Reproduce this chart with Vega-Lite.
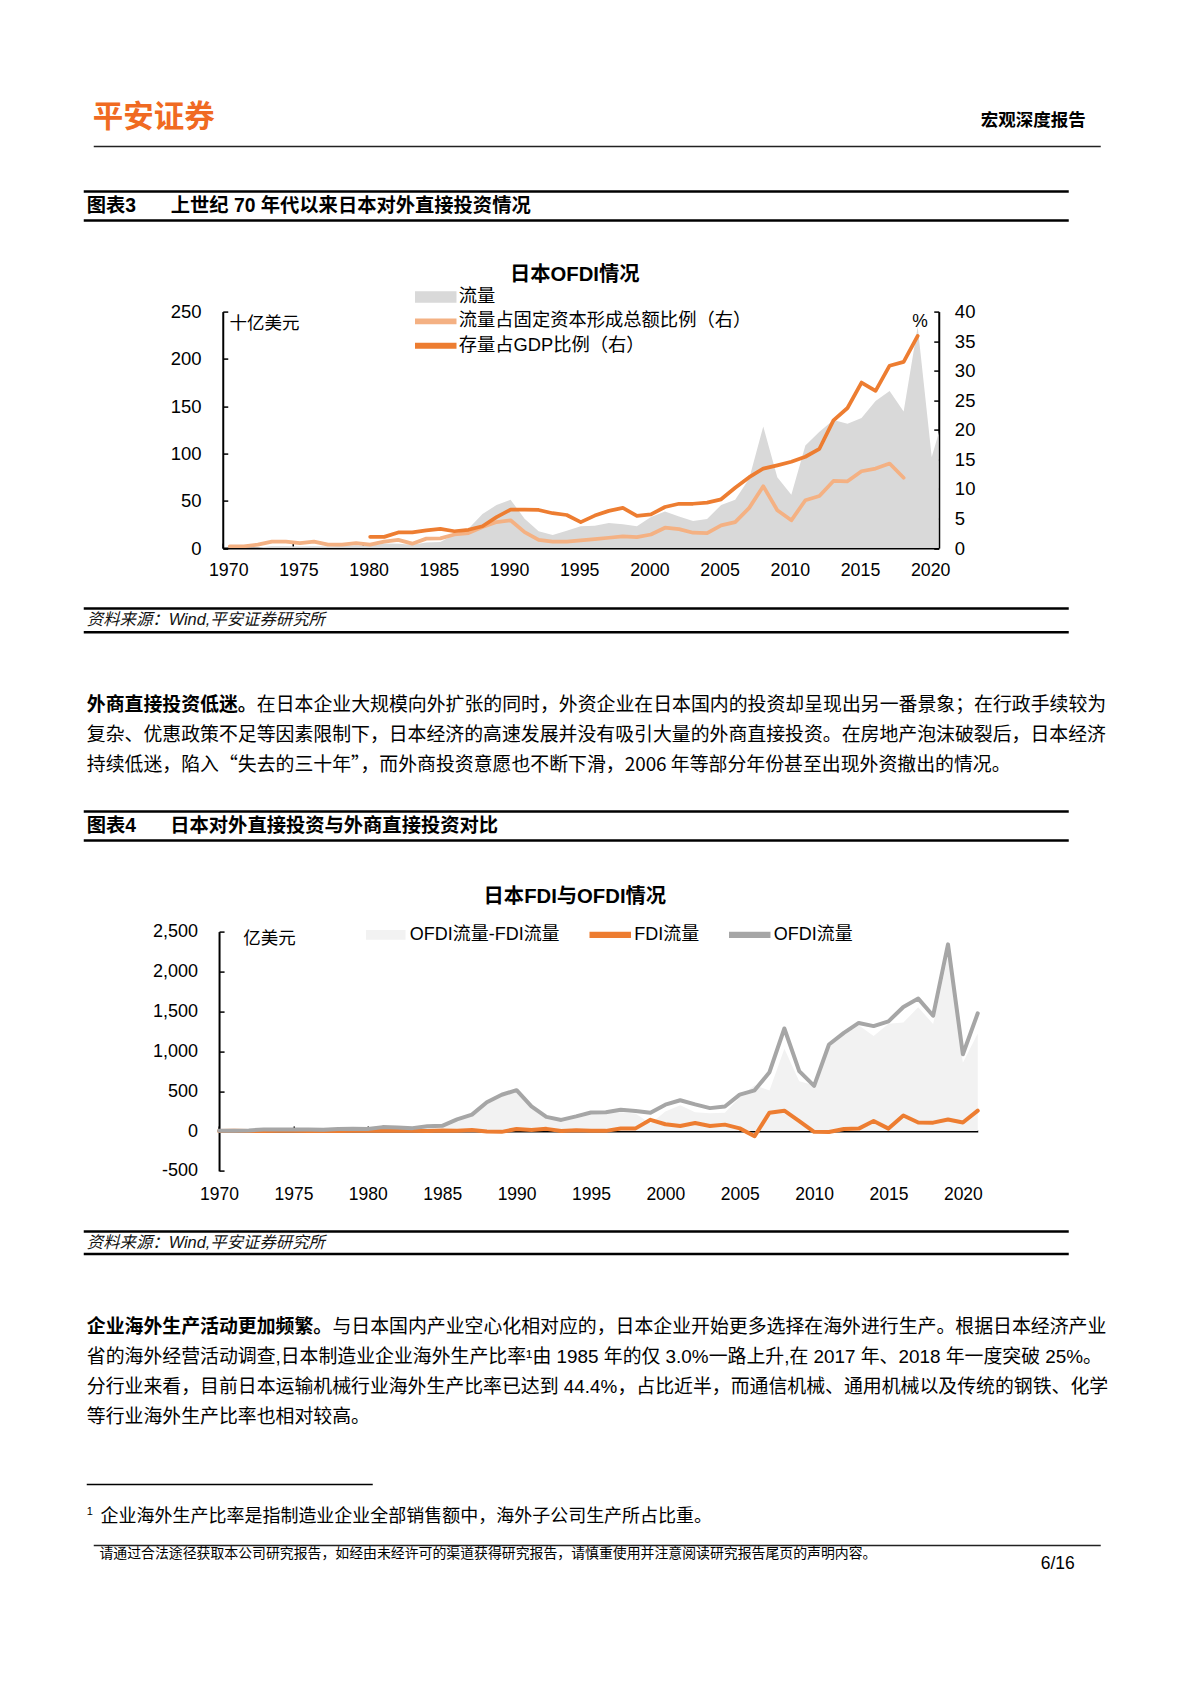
{
"$schema": "https://vega.github.io/schema/vega-lite/v6.json",
"padding": {"left": 81.75, "top": 102.6, "right": 5, "bottom": 5},
"spacing": 0,
"resolve": {"scale": {"color": "independent"}},
"config": {
  "view": {"stroke": null},
  "font": "Liberation Sans, Noto Sans CJK SC",
  "axis": {"labelFont": "Liberation Sans, Noto Sans CJK SC", "titleFont": "Liberation Sans, Noto Sans CJK SC", "labelColor": "#000", "titleColor": "#000", "domainColor": "#000", "tickColor": "#000", "grid": false},
  "legend": {"labelFont": "Liberation Sans, Noto Sans CJK SC", "labelColor": "#000"},
  "title": {"font": "Liberation Sans, Noto Sans CJK SC", "color": "#000"}
},
"vconcat": [
{
 "width": 1017, "height": 29,
 "encoding": {"y": {"field": "k", "type": "nominal", "scale": {"type": "point", "domain": ["text", "rule"], "padding": 0}, "axis": null}},
 "layer": [
  {"data": {"values": [{"k": "text", "label": "平安证券"}]}, "mark": {"type": "text", "align": "left", "baseline": "middle", "dx": 9, "fontSize": 30.5, "fontWeight": "bold", "color": "#F06A22", "font": "Noto Sans CJK SC"}, "encoding": {"x": {"datum": 0, "type": "quantitative", "scale": {"domain": [0, 1]}, "axis": null}, "text": {"field": "label"}}},
  {"data": {"values": [{"k": "text", "label": "宏观深度报告"}]}, "mark": {"type": "text", "align": "right", "baseline": "middle", "dx": -15, "dy": 3, "fontSize": 17.5, "fontWeight": "bold", "color": "#000"}, "encoding": {"x": {"datum": 1, "type": "quantitative", "scale": {"domain": [0, 1]}, "axis": null}, "text": {"field": "label"}}},
  {"data": {"values": [{"k": "rule"}]}, "mark": {"type": "rule", "strokeWidth": 1.5, "color": "#222", "strokeDash": [1007, 50]}, "encoding": {}}
 ]
},
{"width": 10, "height": 41.3, "data": {"values": []}, "mark": "point", "encoding": {}},
{
 "width": 985, "height": 29,
 "encoding": {"y": {"field": "k", "type": "nominal", "scale": {"type": "point", "domain": ["top", "mid", "bottom"], "padding": 0}, "axis": null}},
 "layer": [
  {"data": {"values": [{"k": "top"}, {"k": "bottom"}]}, "mark": {"type": "rule", "strokeWidth": 2.5, "color": "#000"}, "encoding": {}},
  {"data": {"values": [{"k": "mid", "label": "图表3"}]}, "mark": {"type": "text", "align": "left", "baseline": "middle", "dx": 3, "fontSize": 19.3, "fontWeight": "bold", "color": "#000"}, "encoding": {"x": {"datum": 0, "type": "quantitative", "scale": {"domain": [0, 1]}, "axis": null}, "text": {"field": "label"}}},
  {"data": {"values": [{"k": "mid", "label": "上世纪 70 年代以来日本对外直接投资情况"}]}, "mark": {"type": "text", "align": "left", "baseline": "middle", "dx": 87, "fontSize": 19.3, "fontWeight": "bold", "color": "#000"}, "encoding": {"x": {"datum": 0, "type": "quantitative", "scale": {"domain": [0, 1]}, "axis": null}, "text": {"field": "label"}}}
 ]
},
{"width": 10, "height": 41.97, "data": {"values": []}, "mark": "point", "encoding": {}},
{
 "width": 855, "height": 236.5,
 "title": {"text": "日本OFDI情况", "fontSize": 20.3, "fontWeight": "bold", "anchor": "middle", "dx": 63.5, "offset": 0.9},
 "data": {"values": [
  {"年份": 1970, "流量": 0.36, "流量占固定资本形成总额比例（右）": 0.3, "存量占GDP比例（右）": null},
  {"年份": 1971, "流量": 0.36, "流量占固定资本形成总额比例（右）": 0.3, "存量占GDP比例（右）": null},
  {"年份": 1972, "流量": 0.72, "流量占固定资本形成总额比例（右）": 0.6, "存量占GDP比例（右）": null},
  {"年份": 1973, "流量": 1.9, "流量占固定资本形成总额比例（右）": 1.1, "存量占GDP比例（右）": null},
  {"年份": 1974, "流量": 2.0, "流量占固定资本形成总额比例（右）": 1.1, "存量占GDP比例（右）": null},
  {"年份": 1975, "流量": 1.76, "流量占固定资本形成总额比例（右）": 0.85, "存量占GDP比例（右）": null},
  {"年份": 1976, "流量": 1.99, "流量占固定资本形成总额比例（右）": 1.1, "存量占GDP比例（右）": null},
  {"年份": 1977, "流量": 1.65, "流量占固定资本形成总额比例（右）": 0.6, "存量占GDP比例（右）": null},
  {"年份": 1978, "流量": 2.37, "流量占固定资本形成总额比例（右）": 0.6, "存量占GDP比例（右）": null},
  {"年份": 1979, "流量": 2.9, "流量占固定资本形成总额比例（右）": 0.85, "存量占GDP比例（右）": null},
  {"年份": 1980, "流量": 2.39, "流量占固定资本形成总额比例（右）": 0.6, "存量占GDP比例（右）": 1.9},
  {"年份": 1981, "流量": 4.89, "流量占固定资本形成总额比例（右）": 1.1, "存量占GDP比例（右）": 1.9},
  {"年份": 1982, "流量": 4.54, "流量占固定资本形成总额比例（右）": 1.4, "存量占GDP比例（右）": 2.65},
  {"年份": 1983, "流量": 3.61, "流量占固定资本形成总额比例（右）": 0.75, "存量占GDP比例（右）": 2.65},
  {"年份": 1984, "流量": 5.97, "流量占固定资本形成总额比例（右）": 1.6, "存量占GDP比例（右）": 3.0},
  {"年份": 1985, "流量": 6.45, "流量占固定资本形成总额比例（右）": 1.65, "存量占GDP比例（右）": 3.25},
  {"年份": 1986, "流量": 14.5, "流量占固定资本形成总额比例（右）": 2.3, "存量占GDP比例（右）": 2.85},
  {"年份": 1987, "流量": 20.5, "流量占固定资本形成总额比例（右）": 2.55, "存量占GDP比例（右）": 3.1},
  {"年份": 1988, "流量": 36.0, "流量占固定资本形成总额比例（右）": 3.55, "存量占GDP比例（右）": 3.7},
  {"年份": 1989, "流量": 45.5, "流量占固定资本形成总额比例（右）": 4.4, "存量占GDP比例（右）": 5.25},
  {"年份": 1990, "流量": 51.2, "流量占固定资本形成总额比例（右）": 4.7, "存量占GDP比例（右）": 6.5},
  {"年份": 1991, "流量": 31.0, "流量占固定资本形成总额比例（右）": 2.7, "存量占GDP比例（右）": 6.5},
  {"年份": 1992, "流量": 17.7, "流量占固定资本形成总额比例（右）": 1.4, "存量占GDP比例（右）": 6.45},
  {"年份": 1993, "流量": 13.9, "流量占固定资本形成总额比例（右）": 1.1, "存量占GDP比例（右）": 5.9},
  {"年份": 1994, "流量": 18.3, "流量占固定资本形成总额比例（右）": 1.1, "存量占GDP比例（右）": 5.6},
  {"年份": 1995, "流量": 23.2, "流量占固定资本形成总额比例（右）": 1.3, "存量占GDP比例（右）": 4.4},
  {"年份": 1996, "流量": 23.6, "流量占固定资本形成总额比例（右）": 1.5, "存量占GDP比例（右）": 5.5},
  {"年份": 1997, "流量": 26.6, "流量占固定资本形成总额比例（右）": 1.75, "存量占GDP比例（右）": 6.3},
  {"年份": 1998, "流量": 25.2, "流量占固定资本形成总额比例（右）": 2.0, "存量占GDP比例（右）": 6.8},
  {"年份": 1999, "流量": 23.0, "流量占固定资本形成总额比例（右）": 1.85, "存量占GDP比例（右）": 5.45},
  {"年份": 2000, "流量": 33.0, "流量占固定资本形成总额比例（右）": 2.3, "存量占GDP比例（右）": 5.7},
  {"年份": 2001, "流量": 38.6, "流量占固定资本形成总额比例（右）": 3.45, "存量占GDP比例（右）": 6.95},
  {"年份": 2002, "流量": 33.4, "流量占固定资本形成总额比例（右）": 3.2, "存量占GDP比例（右）": 7.5},
  {"年份": 2003, "流量": 28.7, "流量占固定资本形成总额比例（右）": 2.6, "存量占GDP比例（右）": 7.5},
  {"年份": 2004, "流量": 30.8, "流量占固定资本形成总额比例（右）": 2.55, "存量占GDP比例（右）": 7.7},
  {"年份": 2005, "流量": 45.6, "流量占固定资本形成总额比例（右）": 3.85, "存量占GDP比例（右）": 8.25},
  {"年份": 2006, "流量": 51.0, "流量占固定资本形成总额比例（右）": 4.4, "存量占GDP比例（右）": 10.2},
  {"年份": 2007, "流量": 73.7, "流量占固定资本形成总额比例（右）": 6.8, "存量占GDP比例（右）": 12.0},
  {"年份": 2008, "流量": 128.5, "流量占固定资本形成总额比例（右）": 10.45, "存量占GDP比例（右）": 13.45},
  {"年份": 2009, "流量": 75.0, "流量占固定资本形成总额比例（右）": 6.4, "存量占GDP比例（右）": 14.0},
  {"年份": 2010, "流量": 56.5, "流量占固定资本形成总额比例（右）": 4.7, "存量占GDP比例（右）": 14.6},
  {"年份": 2011, "流量": 108.5, "流量占固定资本形成总额比例（右）": 8.1, "存量占GDP比例（右）": 15.45},
  {"年份": 2012, "流量": 123.0, "流量占固定资本形成总额比例（右）": 8.8, "存量占GDP比例（右）": 16.8},
  {"年份": 2013, "流量": 135.5, "流量占固定资本形成总额比例（右）": 11.35, "存量占GDP比例（右）": 21.6},
  {"年份": 2014, "流量": 131.5, "流量占固定资本形成总额比例（右）": 11.3, "存量占GDP比例（右）": 23.7},
  {"年份": 2015, "流量": 137.5, "流量占固定资本形成总额比例（右）": 13.0, "存量占GDP比例（右）": 28.0},
  {"年份": 2016, "流量": 155.5, "流量占固定资本形成总额比例（右）": 13.45, "存量占GDP比例（右）": 26.6},
  {"年份": 2017, "流量": 166.0, "流量占固定资本形成总额比例（右）": 14.3, "存量占GDP比例（右）": 30.85},
  {"年份": 2018, "流量": 144.5, "流量占固定资本形成总额比例（右）": 11.9, "存量占GDP比例（右）": 31.5},
  {"年份": 2019, "流量": 234.0, "流量占固定资本形成总额比例（右）": null, "存量占GDP比例（右）": 35.9},
  {"年份": 2020, "流量": 96.2, "流量占固定资本形成总额比例（右）": null, "存量占GDP比例（右）": null},
  {"年份": 2021, "流量": 147.6, "流量占固定资本形成总额比例（右）": null, "存量占GDP比例（右）": null}
 ]},
 "transform": [{"fold": ["流量", "流量占固定资本形成总额比例（右）", "存量占GDP比例（右）"], "as": ["series", "value"]}],
 "encoding": {
  "x": {"field": "年份", "type": "quantitative", "scale": {"domain": [1969.5, 2020.5], "range": [139, 855], "nice": false, "zero": false},
        "axis": {"values": [1969.5, 1974.5, 1979.5, 1984.5, 1989.5, 1994.5, 1999.5, 2004.5, 2009.5, 2014.5, 2019.5], "labelExpr": "'' + (datum.value + 0.5)", "labelOffset": 5.5, "tickSize": -5, "tickWidth": 1.5, "labelPadding": 18.9, "domainWidth": 2, "labelFontSize": 17.8, "title": null, "labelFlush": false, "labelOverlap": false, "grid": false}},
  "color": {"field": "series", "type": "nominal",
        "scale": {"domain": ["流量", "流量占固定资本形成总额比例（右）", "存量占GDP比例（右）"], "range": ["#d9d9d9", "#f4b183", "#ed7d31"]},
        "legend": {"orient": "none", "legendX": 341, "legendY": -25.5, "direction": "vertical", "title": null, "padding": 0, "labelFontSize": 18.3, "labelOffset": 12, "rowPadding": 4.3, "symbolSize": 400, "symbolType": "M-2,-0.22H2V0.22H-2Z", "labelLimit": 600,
          "encode": {"symbols": {"update": {"shape": {"signal": "datum.value === '流量' ? 'M-2,-0.5H2V0.5H-2Z' : 'M-2,-0.22H2V0.22H-2Z'"}, "fill": {"signal": "datum.value === '流量' ? '#d9d9d9' : (datum.value === '存量占GDP比例（右）' ? '#ed7d31' : '#f4b183')"}, "stroke": {"value": "transparent"}, "opacity": {"value": 1}}}}}}
 },
 "layer": [
  {"transform": [{"filter": "datum.series === '流量'"}], "mark": {"type": "area", "clip": true},
   "encoding": {"y": {"field": "value", "type": "quantitative", "stack": null, "scale": {"domain": [0, 250], "nice": false},
     "axis": {"orient": "left", "offset": -139, "values": [0, 50, 100, 150, 200, 250], "tickSize": -5, "tickWidth": 1.5, "labelPadding": 26.7, "domainWidth": 2, "labelFontSize": 18.5, "grid": false, "title": "十亿美元", "titleAngle": 0, "titleX": 6.3, "titleY": 12.3, "titleAlign": "left", "titleBaseline": "middle", "titleFontSize": 17.5, "titleFontWeight": "normal"}}}},
  {"transform": [{"filter": "datum.series === '流量占固定资本形成总额比例（右）'"}], "mark": {"type": "line", "strokeWidth": 3.75, "strokeCap": "round", "strokeJoin": "round", "clip": true},
   "encoding": {"y": {"field": "value", "type": "quantitative", "scale": {"domain": [0, 40], "nice": false},
     "axis": {"orient": "right", "values": [0, 5, 10, 15, 20, 25, 30, 35, 40], "tickSize": -5, "tickWidth": 1.5, "labelPadding": 20.6, "domainWidth": 2, "labelFontSize": 18.5, "grid": false, "title": "%", "titleAngle": 0, "titleX": -19.3, "titleY": 10, "titleAlign": "center", "titleBaseline": "middle", "titleFontSize": 17.5, "titleFontWeight": "normal"}}}},
  {"transform": [{"filter": "datum.series === '存量占GDP比例（右）'"}], "mark": {"type": "line", "strokeWidth": 3.75, "strokeCap": "round", "strokeJoin": "round", "clip": true},
   "encoding": {"y": {"field": "value", "type": "quantitative", "scale": {"domain": [0, 40], "nice": false}, "axis": null}}}
 ],
 "resolve": {"scale": {"y": "independent"}}
},
{"width": 10, "height": 25.8, "data": {"values": []}, "mark": "point", "encoding": {}},
{
 "width": 985, "height": 23.6,
 "encoding": {"y": {"field": "k", "type": "nominal", "scale": {"type": "point", "domain": ["top", "mid", "bottom"], "padding": 0}, "axis": null}},
 "layer": [
  {"data": {"values": [{"k": "top"}, {"k": "bottom"}]}, "mark": {"type": "rule", "strokeWidth": 2.5, "color": "#000"}, "encoding": {}},
  {"data": {"values": [{"k": "mid", "label": "资料来源：Wind,平安证券研究所"}]}, "mark": {"type": "text", "align": "left", "baseline": "middle", "dx": 3, "fontSize": 16.4, "fontStyle": "italic", "color": "#111"}, "encoding": {"x": {"datum": 0, "type": "quantitative", "scale": {"domain": [0, 1]}, "axis": null}, "text": {"field": "label"}}}
 ]
},
{"width": 10, "height": 61.2, "data": {"values": []}, "mark": "point", "encoding": {}},
{
 "width": 985, "height": 60.1,
 "encoding": {"y": {"field": "k", "type": "nominal", "scale": {"type": "point", "domain": ["l1", "l2", "l3"], "padding": 0}, "axis": null},
              "x": {"datum": 0, "type": "quantitative", "scale": {"domain": [0, 1]}, "axis": null}},
 "layer": [
  {"data": {"values": [{"k": "l1", "label": "外商直接投资低迷。"}]}, "mark": {"type": "text", "align": "left", "baseline": "middle", "dx": 3, "fontSize": 18.9, "fontWeight": "bold", "color": "#000"}, "encoding": {"text": {"field": "label"}}},
  {"data": {"values": [{"k": "l1", "label": "在日本企业大规模向外扩张的同时，外资企业在日本国内的投资却呈现出另一番景象；在行政手续较为"}]}, "mark": {"type": "text", "align": "left", "baseline": "middle", "dx": 173.1, "fontSize": 18.9, "color": "#000"}, "encoding": {"text": {"field": "label"}}},
  {"data": {"values": [{"k": "l2", "label": "复杂、优惠政策不足等因素限制下，日本经济的高速发展并没有吸引大量的外商直接投资。在房地产泡沫破裂后，日本经济"}]}, "mark": {"type": "text", "align": "left", "baseline": "middle", "dx": 3, "fontSize": 18.9, "color": "#000"}, "encoding": {"text": {"field": "label"}}},
  {"data": {"values": [{"k": "l3", "label": "持续低迷，陷入“失去的三十年”，而外商投资意愿也不断下滑，2006 年等部分年份甚至出现外资撤出的情况。"}]}, "mark": {"type": "text", "align": "left", "baseline": "middle", "dx": 3, "fontSize": 18.9, "color": "#000", "font": "Noto Sans CJK SC"}, "encoding": {"text": {"field": "label"}}}
 ]
},
{"width": 10, "height": 34.4, "data": {"values": []}, "mark": "point", "encoding": {}},
{
 "width": 985, "height": 28.9,
 "encoding": {"y": {"field": "k", "type": "nominal", "scale": {"type": "point", "domain": ["top", "mid", "bottom"], "padding": 0}, "axis": null}},
 "layer": [
  {"data": {"values": [{"k": "top"}, {"k": "bottom"}]}, "mark": {"type": "rule", "strokeWidth": 2.5, "color": "#000"}, "encoding": {}},
  {"data": {"values": [{"k": "mid", "label": "图表4"}]}, "mark": {"type": "text", "align": "left", "baseline": "middle", "dx": 3, "fontSize": 19.3, "fontWeight": "bold", "color": "#000"}, "encoding": {"x": {"datum": 0, "type": "quantitative", "scale": {"domain": [0, 1]}, "axis": null}, "text": {"field": "label"}}},
  {"data": {"values": [{"k": "mid", "label": "日本对外直接投资与外商直接投资对比"}]}, "mark": {"type": "text", "align": "left", "baseline": "middle", "dx": 86.5, "fontSize": 19.3, "fontWeight": "bold", "color": "#000"}, "encoding": {"x": {"datum": 0, "type": "quantitative", "scale": {"domain": [0, 1]}, "axis": null}, "text": {"field": "label"}}}
 ]
},
{"width": 10, "height": 43.75, "data": {"values": []}, "mark": "point", "encoding": {}},
{
 "width": 894, "height": 239.3,
 "title": {"text": "日本FDI与OFDI情况", "fontSize": 20.3, "fontWeight": "bold", "anchor": "middle", "dx": 44.1, "offset": 15.3},
 "data": {"values": [
  {"年份": 1970, "OFDI流量-FDI流量": 2.7, "FDI流量": 0.9, "OFDI流量": 3.6},
  {"年份": 1971, "OFDI流量-FDI流量": 1.5, "FDI流量": 2.1, "OFDI流量": 3.6},
  {"年份": 1972, "OFDI流量-FDI流量": 5.5, "FDI流量": 1.7, "OFDI流量": 7.2},
  {"年份": 1973, "OFDI流量-FDI流量": 18.5, "FDI流量": 0.5, "OFDI流量": 19},
  {"年份": 1974, "OFDI流量-FDI流量": 18, "FDI流量": 2.0, "OFDI流量": 20},
  {"年份": 1975, "OFDI流量-FDI流量": 15.3, "FDI流量": 2.3, "OFDI流量": 17.6},
  {"年份": 1976, "OFDI流量-FDI流量": 18.8, "FDI流量": 1.1, "OFDI流量": 19.9},
  {"年份": 1977, "OFDI流量-FDI流量": 16.3, "FDI流量": 0.2, "OFDI流量": 16.5},
  {"年份": 1978, "OFDI流量-FDI流量": 23.6, "FDI流量": 0.1, "OFDI流量": 23.7},
  {"年份": 1979, "OFDI流量-FDI流量": 26.6, "FDI流量": 2.4, "OFDI流量": 29},
  {"年份": 1980, "OFDI流量-FDI流量": 21.1, "FDI流量": 2.8, "OFDI流量": 23.9},
  {"年份": 1981, "OFDI流量-FDI流量": 47, "FDI流量": 1.9, "OFDI流量": 48.9},
  {"年份": 1982, "OFDI流量-FDI流量": 41, "FDI流量": 4.4, "OFDI流量": 45.4},
  {"年份": 1983, "OFDI流量-FDI流量": 31.9, "FDI流量": 4.2, "OFDI流量": 36.1},
  {"年份": 1984, "OFDI流量-FDI流量": 59.2, "FDI流量": 0.5, "OFDI流量": 59.7},
  {"年份": 1985, "OFDI流量-FDI流量": 58.1, "FDI流量": 6.4, "OFDI流量": 64.5},
  {"年份": 1986, "OFDI流量-FDI流量": 142.7, "FDI流量": 2.3, "OFDI流量": 145},
  {"年份": 1987, "OFDI流量-FDI流量": 193.3, "FDI流量": 11.7, "OFDI流量": 205},
  {"年份": 1988, "OFDI流量-FDI流量": 365.2, "FDI流量": -5.2, "OFDI流量": 360},
  {"年份": 1989, "OFDI流量-FDI流量": 465.5, "FDI流量": -10.5, "OFDI流量": 455},
  {"年份": 1990, "OFDI流量-FDI流量": 487, "FDI流量": 25, "OFDI流量": 512},
  {"年份": 1991, "OFDI流量-FDI流量": 297, "FDI流量": 13, "OFDI流量": 310},
  {"年份": 1992, "OFDI流量-FDI流量": 150, "FDI流量": 27, "OFDI流量": 177},
  {"年份": 1993, "OFDI流量-FDI流量": 138, "FDI流量": 1, "OFDI流量": 139},
  {"年份": 1994, "OFDI流量-FDI流量": 174, "FDI流量": 9, "OFDI流量": 183},
  {"年份": 1995, "OFDI流量-FDI流量": 230, "FDI流量": 2, "OFDI流量": 232},
  {"年份": 1996, "OFDI流量-FDI流量": 234, "FDI流量": 2, "OFDI流量": 236},
  {"年份": 1997, "OFDI流量-FDI流量": 234, "FDI流量": 32, "OFDI流量": 266},
  {"年份": 1998, "OFDI流量-FDI流量": 219, "FDI流量": 33, "OFDI流量": 252},
  {"年份": 1999, "OFDI流量-FDI流量": 90, "FDI流量": 140, "OFDI流量": 230},
  {"年份": 2000, "OFDI流量-FDI流量": 245, "FDI流量": 85, "OFDI流量": 330},
  {"年份": 2001, "OFDI流量-FDI流量": 324, "FDI流量": 62, "OFDI流量": 386},
  {"年份": 2002, "OFDI流量-FDI流量": 234, "FDI流量": 100, "OFDI流量": 334},
  {"年份": 2003, "OFDI流量-FDI流量": 224, "FDI流量": 63, "OFDI流量": 287},
  {"年份": 2004, "OFDI流量-FDI流量": 228, "FDI流量": 80, "OFDI流量": 308},
  {"年份": 2005, "OFDI流量-FDI流量": 423, "FDI流量": 33, "OFDI流量": 456},
  {"年份": 2006, "OFDI流量-FDI流量": 575, "FDI流量": -65, "OFDI流量": 510},
  {"年份": 2007, "OFDI流量-FDI流量": 507, "FDI流量": 230, "OFDI流量": 737},
  {"年份": 2008, "OFDI流量-FDI流量": 1030, "FDI流量": 255, "OFDI流量": 1285},
  {"年份": 2009, "OFDI流量-FDI流量": 625, "FDI流量": 125, "OFDI流量": 750},
  {"年份": 2010, "OFDI流量-FDI流量": 575, "FDI流量": -10, "OFDI流量": 565},
  {"年份": 2011, "OFDI流量-FDI流量": 1097, "FDI流量": -12, "OFDI流量": 1085},
  {"年份": 2012, "OFDI流量-FDI流量": 1205, "FDI流量": 25, "OFDI流量": 1230},
  {"年份": 2013, "OFDI流量-FDI流量": 1325, "FDI流量": 30, "OFDI流量": 1355},
  {"年份": 2014, "OFDI流量-FDI流量": 1190, "FDI流量": 125, "OFDI流量": 1315},
  {"年份": 2015, "OFDI流量-FDI流量": 1345, "FDI流量": 30, "OFDI流量": 1375},
  {"年份": 2016, "OFDI流量-FDI流量": 1360, "FDI流量": 195, "OFDI流量": 1555},
  {"年份": 2017, "OFDI流量-FDI流量": 1553, "FDI流量": 107, "OFDI流量": 1660},
  {"年份": 2018, "OFDI流量-FDI流量": 1340, "FDI流量": 105, "OFDI流量": 1445},
  {"年份": 2019, "OFDI流量-FDI流量": 2195, "FDI流量": 145, "OFDI流量": 2340},
  {"年份": 2020, "OFDI流量-FDI流量": 856, "FDI流量": 106, "OFDI流量": 962},
  {"年份": 2021, "OFDI流量-FDI流量": 1221, "FDI流量": 255, "OFDI流量": 1476}
 ]},
 "transform": [{"fold": ["OFDI流量-FDI流量", "FDI流量", "OFDI流量"], "as": ["series", "value"]}],
 "encoding": {
  "x": {"field": "年份", "type": "quantitative", "scale": {"domain": [1970, 2021], "range": [135.3, 894], "nice": false, "zero": false},
        "axis": {"values": [1970, 1975, 1980, 1985, 1990, 1995, 2000, 2005, 2010, 2015, 2020], "labelExpr": "'' + datum.value", "offset": -39.9, "tickSize": -5, "tickWidth": 1.5, "labelPadding": 59.4, "domainWidth": 2, "labelFontSize": 17.5, "title": null, "labelFlush": false, "labelOverlap": false, "grid": false}},
  "y": {"field": "value", "type": "quantitative", "stack": null, "scale": {"domain": [-500, 2500], "nice": false},
        "axis": {"orient": "left", "offset": -135.3, "values": [-500, 0, 500, 1000, 1500, 2000, 2500], "labelExpr": "replace(format(datum.value, ','), '\u2212', '-')", "tickSize": -5, "tickWidth": 1.5, "labelPadding": 26.6, "domainWidth": 2, "labelFontSize": 18, "grid": false, "title": "亿美元", "titleAngle": 0, "titleX": 23.7, "titleY": 6.6, "titleAlign": "left", "titleBaseline": "middle", "titleFontSize": 17.5, "titleFontWeight": "normal"}},
  "color": {"field": "series", "type": "nominal",
        "scale": {"domain": ["OFDI流量-FDI流量", "FDI流量", "OFDI流量"], "range": ["#f2f2f2", "#ed7d31", "#a6a6a6"]},
        "legend": {"orient": "none", "legendX": 291, "legendY": -7.7, "direction": "horizontal", "columns": 3, "columnPadding": 27.5, "title": null, "padding": 0, "labelFontSize": 18, "labelOffset": 13, "symbolSize": 400, "symbolType": "M-2,-0.24H2V0.24H-2Z", "labelLimit": 600,
          "encode": {"symbols": {"update": {"shape": {"signal": "datum.value === 'OFDI流量-FDI流量' ? 'M-1.9,-0.42H1.9V0.42H-1.9Z' : 'M-2,-0.24H2V0.24H-2Z'"}, "fill": {"signal": "datum.value === 'OFDI流量-FDI流量' ? '#f2f2f2' : (datum.value === 'FDI流量' ? '#ed7d31' : '#a6a6a6')"}, "stroke": {"value": "transparent"}, "opacity": {"value": 1}}}}}}
 },
 "layer": [
  {"transform": [{"filter": "datum.series === 'OFDI流量-FDI流量'"}], "mark": {"type": "area"}},
  {"transform": [{"filter": "datum.series === 'FDI流量'"}], "mark": {"type": "line", "strokeWidth": 4, "strokeCap": "round", "strokeJoin": "round"}},
  {"transform": [{"filter": "datum.series === 'OFDI流量'"}], "mark": {"type": "line", "strokeWidth": 4, "strokeCap": "round", "strokeJoin": "round"}}
 ]
},
{"width": 10, "height": 25.2, "data": {"values": []}, "mark": "point", "encoding": {}},
{
 "width": 985, "height": 22.5,
 "encoding": {"y": {"field": "k", "type": "nominal", "scale": {"type": "point", "domain": ["top", "mid", "bottom"], "padding": 0}, "axis": null}},
 "layer": [
  {"data": {"values": [{"k": "top"}, {"k": "bottom"}]}, "mark": {"type": "rule", "strokeWidth": 2.5, "color": "#000"}, "encoding": {}},
  {"data": {"values": [{"k": "mid", "label": "资料来源：Wind,平安证券研究所"}]}, "mark": {"type": "text", "align": "left", "baseline": "middle", "dx": 3, "fontSize": 16.4, "fontStyle": "italic", "color": "#111"}, "encoding": {"x": {"datum": 0, "type": "quantitative", "scale": {"domain": [0, 1]}, "axis": null}, "text": {"field": "label"}}}
 ]
},
{"width": 10, "height": 61.3, "data": {"values": []}, "mark": "point", "encoding": {}},
{
 "width": 985, "height": 90.1,
 "encoding": {"y": {"field": "k", "type": "nominal", "scale": {"type": "point", "domain": ["l1", "l2", "l3", "l4"], "padding": 0}, "axis": null},
              "x": {"datum": 0, "type": "quantitative", "scale": {"domain": [0, 1]}, "axis": null}},
 "layer": [
  {"data": {"values": [{"k": "l1", "label": "企业海外生产活动更加频繁。"}]}, "mark": {"type": "text", "align": "left", "baseline": "middle", "dx": 3, "fontSize": 18.9, "fontWeight": "bold", "color": "#000"}, "encoding": {"text": {"field": "label"}}},
  {"data": {"values": [{"k": "l1", "label": "与日本国内产业空心化相对应的，日本企业开始更多选择在海外进行生产。根据日本经济产业"}]}, "mark": {"type": "text", "align": "left", "baseline": "middle", "dx": 248.7, "fontSize": 18.9, "color": "#000"}, "encoding": {"text": {"field": "label"}}},
  {"data": {"values": [{"k": "l2", "label": "省的海外经营活动调查,日本制造业企业海外生产比率¹由 1985 年的仅 3.0%一路上升,在 2017 年、2018 年一度突破 25%。"}, {"k": "l3", "label": "分行业来看，目前日本运输机械行业海外生产比率已达到 44.4%，占比近半，而通信机械、通用机械以及传统的钢铁、化学"}, {"k": "l4", "label": "等行业海外生产比率也相对较高。"}]}, "mark": {"type": "text", "align": "left", "baseline": "middle", "dx": 3, "fontSize": 18.9, "color": "#000"}, "encoding": {"text": {"field": "label"}}}
 ]
},
{"width": 10, "height": 56.4, "data": {"values": []}, "mark": "point", "encoding": {}},
{
 "width": 985, "height": 32.1,
 "encoding": {"y": {"field": "k", "type": "nominal", "scale": {"type": "point", "domain": ["rule", "text"], "padding": 0}, "axis": null},
              "x": {"datum": 0, "type": "quantitative", "scale": {"domain": [0, 1]}, "axis": null}},
 "layer": [
  {"data": {"values": [{"k": "rule"}]}, "mark": {"type": "rule", "strokeWidth": 1.5, "color": "#000", "strokeDash": [0, 696, 286, 2000]}, "encoding": {"x": null}},
  {"data": {"values": [{"k": "text", "label": "1"}]}, "mark": {"type": "text", "align": "left", "baseline": "middle", "dx": 3, "dy": -5, "fontSize": 11, "color": "#000"}, "encoding": {"text": {"field": "label"}}},
  {"data": {"values": [{"k": "text", "label": "企业海外生产比率是指制造业企业全部销售额中，海外子公司生产所占比重。"}]}, "mark": {"type": "text", "align": "left", "baseline": "middle", "dx": 16.8, "fontSize": 18, "color": "#000"}, "encoding": {"text": {"field": "label"}}}
 ]
},
{"width": 10, "height": 17.05, "data": {"values": []}, "mark": "point", "encoding": {}},
{
 "width": 1017, "height": 18.3,
 "encoding": {"y": {"field": "k", "type": "nominal", "scale": {"type": "point", "domain": ["rule", "page"], "padding": 0}, "axis": null}},
 "layer": [
  {"data": {"values": [{"k": "rule"}]}, "mark": {"type": "rule", "strokeWidth": 1.5, "color": "#222", "strokeDash": [1007, 50]}, "encoding": {}},
  {"data": {"values": [{"k": "rule", "label": "请通过合法途径获取本公司研究报告，如经由未经许可的渠道获得研究报告，请慎重使用并注意阅读研究报告尾页的声明内容。"}]}, "mark": {"type": "text", "align": "left", "baseline": "top", "dx": 15.7, "dy": 1.5, "fontSize": 13.9, "color": "#000"}, "encoding": {"x": {"datum": 0, "type": "quantitative", "scale": {"domain": [0, 1]}, "axis": null}, "text": {"field": "label"}}},
  {"data": {"values": [{"k": "page", "label": "6/16"}]}, "mark": {"type": "text", "align": "center", "baseline": "middle", "dx": -43, "fontSize": 17.5, "color": "#000"}, "encoding": {"x": {"datum": 1, "type": "quantitative", "scale": {"domain": [0, 1]}, "axis": null}, "text": {"field": "label"}}}
 ]
}
]
}
